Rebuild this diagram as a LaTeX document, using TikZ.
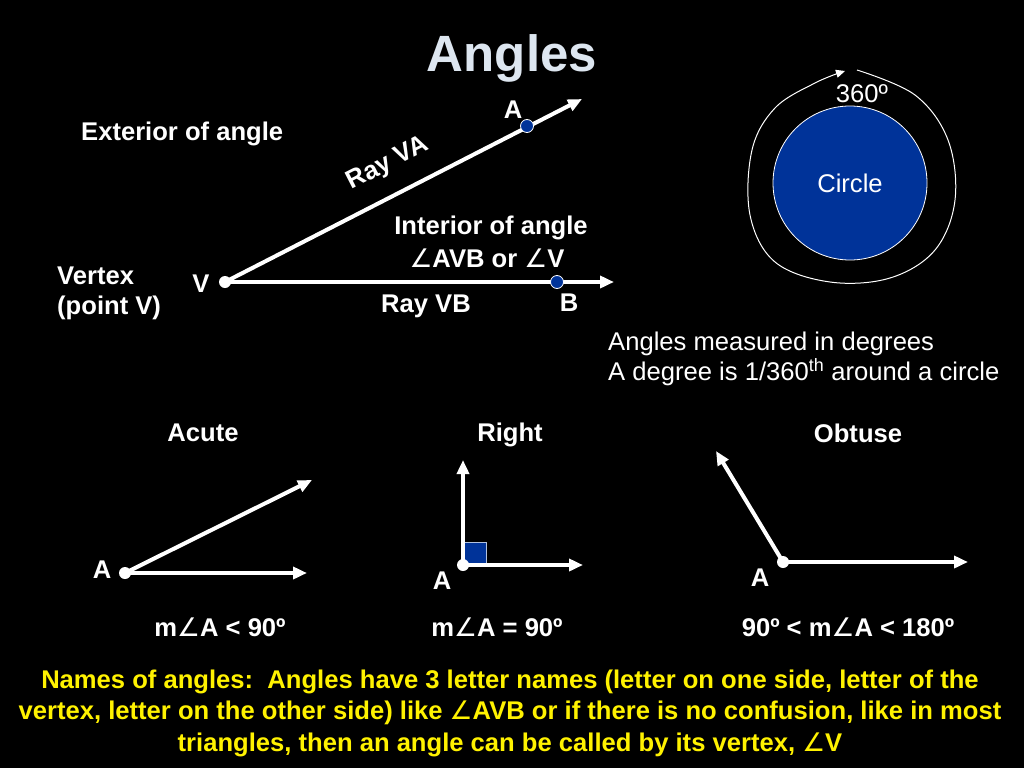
\documentclass[tikz,border=0pt]{standalone}
\usepackage{fontspec}
\setmainfont{Liberation Sans}
\newfontfamily\angfont{DejaVu Sans}
\newcommand{\ang}{{\angfont\mdseries ∠}}
\usetikzlibrary{arrows.meta}
\definecolor{slideblue}{RGB}{0,51,153}
\definecolor{titlegray}{RGB}{221,230,240}
\begin{document}
\begin{tikzpicture}[
  x=1pt, y=-1pt,
  lbl/.style={text=white, font=\fontsize{25.6}{30}\selectfont\bfseries, inner sep=0pt},
  plain/.style={text=white, font=\fontsize{25.6}{30.5}\selectfont, inner sep=0pt},
  ray/.style={white, line width=4pt, -{Triangle[length=14pt, width=12pt]}},
  vdot/.style={circle, fill=white, minimum size=12pt, inner sep=0pt},
  bdot/.style={circle, fill=slideblue, draw=white, line width=0.8pt, minimum size=13pt, inner sep=0pt}
]
  \fill[black] (0,0) rectangle (1024,768);
  \useasboundingbox (0,0) rectangle (1024,768);

  % title
  \node[text=titlegray, font=\fontsize{51}{60}\selectfont\bfseries] (title) at (512,58) {Angles};

  % angle AVB
  \coordinate (V) at (225,282);
  \coordinate (endA) at (582,99);
  \coordinate (endB) at (614,282);
  \draw[ray] (V) -- (endA);
  \draw[ray] (V) -- (endB);
  \node[vdot] (vdotV) at (V) {};
  \node[bdot] (ptA) at (527,126) {};
  \node[bdot] (ptB) at (557,282) {};
  \node[lbl] (labA) at (513,110) {A};
  \node[lbl] (labB) at (569,303) {B};
  \node[lbl] (labV) at (201,284) {V};
  \node[lbl, align=left, anchor=west] (vertex) at (57,293) {Vertex\\(point V)};
  \node[lbl, anchor=west] (exterior) at (81,134) {Exterior of angle};
  \node[lbl, rotate=27.1] (rayVA) at (388,164) {Ray VA};
  \node[lbl] (interior) at (491,228) {Interior of angle};
  \node[lbl] (names) at (487,258) {\ang AVB or \ang V};
  \node[lbl] (rayVB) at (426,306) {Ray VB};

  % circle
  \node[circle, fill=slideblue, draw=white, line width=0.8pt, minimum size=154pt, inner sep=0pt,
        plain] (circ) at (850,183) {Circle};
  \draw[white, line width=1pt, -{Triangle[length=9pt, width=8pt]}]
    plot[smooth, tension=0.6] coordinates {(857,70) (915,95) (948,140) (955,200) (935,250)
      (890,278) (830,282) (775,262) (750,215) (752,150) (775,108) (815,83) (845,71)};
  \node[plain] (deg) at (862,94) {360º};
  \node[plain, align=left, anchor=west] (measure) at (608,359) {Angles measured in degrees\\A degree is 1/360\textsuperscript{th} around a circle};

  % Acute
  \node[lbl] (acute) at (203,433) {Acute};
  \coordinate (acuteV) at (125,573);
  \coordinate (acuteE1) at (312,480);
  \coordinate (acuteE2) at (307,573);
  \draw[ray] (acuteV) -- (acuteE1);
  \draw[ray] (acuteV) -- (acuteE2);
  \node[vdot] (acuteDot) at (acuteV) {};
  \node[lbl] (acuteA) at (102,570) {A};
  \node[lbl] (acuteM) at (220,627) {m\ang A < 90º};

  % Right
  \node[lbl] (right) at (510,435) {Right};
  \coordinate (rightV) at (463,565);
  \coordinate (rightE1) at (463,460);
  \coordinate (rightE2) at (583,565);
  \fill[slideblue, draw=white!70!slideblue, line width=0.6pt] (463,542) rectangle (486,565);
  \draw[ray] (rightV) -- (rightE1);
  \draw[ray] (rightV) -- (rightE2);
  \node[vdot] (rightDot) at (rightV) {};
  \node[lbl] (rightA) at (442,581) {A};
  \node[lbl] (rightM) at (497,627) {m\ang A = 90º};

  % Obtuse
  \node[lbl] (obtuse) at (858,433) {Obtuse};
  \coordinate (obtuseV) at (783,562);
  \coordinate (obtuseE1) at (716,451);
  \coordinate (obtuseE2) at (968,562);
  \draw[ray] (obtuseV) -- (obtuseE1);
  \draw[ray] (obtuseV) -- (obtuseE2);
  \node[vdot] (obtuseDot) at (obtuseV) {};
  \node[lbl] (obtuseA) at (760,578) {A};
  \node[lbl] (obtuseM) at (848,627) {90º < m\ang A < 180º};

  % names of angles
  \node[text=yellow, font=\fontsize{25.6}{31.5}\selectfont\bfseries, align=center, inner sep=0pt] (note) at (510,713)
    {Names of angles:\ \ Angles have 3 letter names (letter on one side, letter of the\\
     vertex, letter on the other side) like \ang AVB or if there is no confusion, like in most\\
     triangles, then an angle can be called by its vertex, \ang V};
\end{tikzpicture}
\end{document}
